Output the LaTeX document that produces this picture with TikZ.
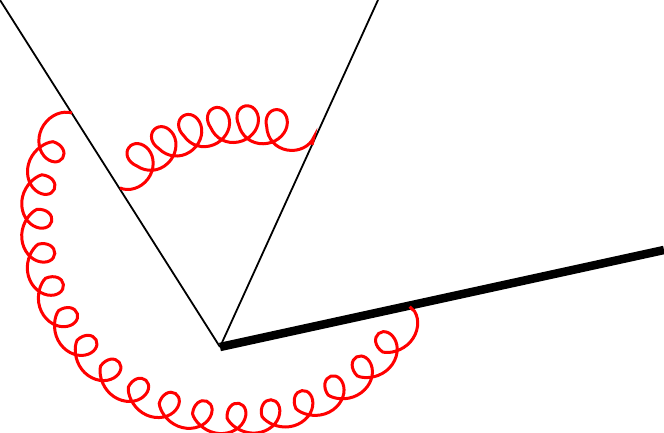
\documentclass[tikz,border=0pt]{standalone}
\usetikzlibrary{decorations.pathmorphing}
\begin{document}
\begin{tikzpicture}[x=1pt,y=1pt,
  fermion/.style={draw=black,line width=1.8pt},
  heavy/.style={draw=black,line width=8.5pt},
  gluon/.style={draw=red,line width=3pt,decorate,
    decoration={coil,mirror,amplitude=17pt,segment length=#1,aspect=1}}]
\useasboundingbox (0,0) rectangle (664,433);
\coordinate (v) at (220,86);
\coordinate (a) at (0,433);
\coordinate (b) at (378,433);
\coordinate (c) at (664,183);
\draw[fermion] (a) -- (v);
\draw[fermion] (v) -- (b);
\draw[heavy] (v) -- (c);
\coordinate (g1s) at (120,245);
\coordinate (g2s) at (72,320);
\draw[gluon=27.7pt] (g1s) arc[start angle=143.4,end angle=61.9,radius=150.8];
\draw[gluon=34.4pt] (g2s) arc[start angle=146.6,end angle=333.7,radius=195];
\end{tikzpicture}
\end{document}
